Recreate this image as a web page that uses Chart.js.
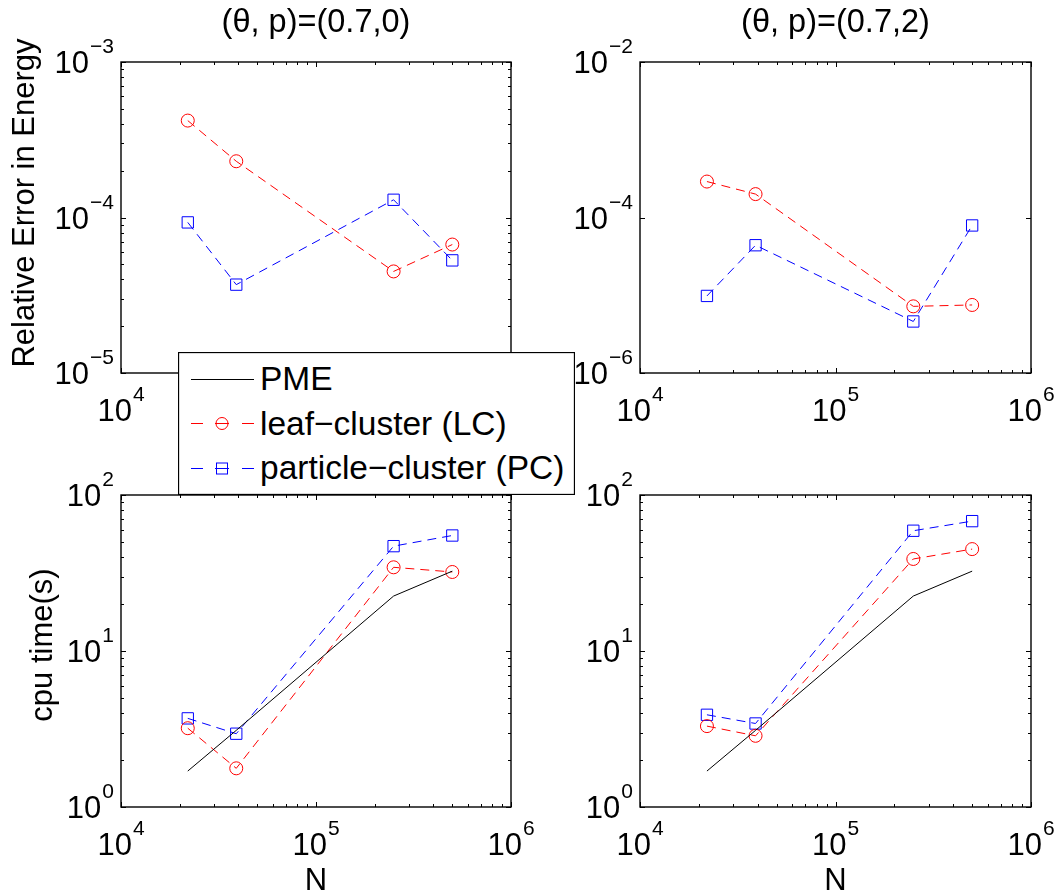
<!DOCTYPE html>
<html>
<head>
<meta charset="utf-8">
<script src="https://cdn.jsdelivr.net/npm/chart.js@4.4.1/dist/chart.umd.min.js"></script>
<style>
  html, body { margin: 0; padding: 0; background: #fff; }
  #fig { position: relative; width: 1060px; height: 893px; overflow: hidden; background: #fff; }
  #fig canvas { position: absolute; left: 0; top: 0; }
  #legend { position: absolute; left: 178px; top: 352px; }
  #legend text { font-family: "Liberation Sans", Arial, Helvetica, sans-serif; font-size: 33.5px; fill: #000; }
</style>
</head>
<body>
<div id="fig">
  <canvas id="errP0" width="1060" height="893"></canvas>
  <canvas id="errP2" width="1060" height="893"></canvas>
  <canvas id="timeP0" width="1060" height="893"></canvas>
  <canvas id="timeP2" width="1060" height="893"></canvas>
  <svg id="legend" width="397" height="143" xmlns="http://www.w3.org/2000/svg">
    <rect x="0.5" y="0.5" width="396" height="142" fill="#fff" stroke="#000" stroke-width="1.3"/>
    <line x1="13" y1="27.5" x2="76" y2="27.5" stroke="#000" stroke-width="1"/>
    <text x="82" y="38">PME</text>
    <path d="M13 71.5H25M37 71.5H51M64 71.5H76" stroke="#f00" stroke-width="1" fill="none"/>
    <circle cx="44" cy="71.5" r="6" stroke="#f00" stroke-width="1" fill="none"/>
    <text x="82" y="83">leaf−cluster (LC)</text>
    <path d="M13 116.5H25M37 116.5H51M64 116.5H76" stroke="#00f" stroke-width="1" fill="none"/>
    <rect x="38.5" y="111" width="11" height="11" stroke="#00f" stroke-width="1" fill="none"/>
    <text x="82" y="127">particle−cluster (PC)</text>
  </svg>
</div>
<script>
// Problem sizes N
const N = [22000, 39000, 250000, 500000];

// Relative error in energy, (theta, p) = (0.7, 0)
const errLC_p0 = [4.2e-4, 2.3e-4, 4.5e-5, 6.7e-5];
const errPC_p0 = [9.3e-5, 3.7e-5, 1.3e-4, 5.3e-5];

// Relative error in energy, (theta, p) = (0.7, 2)
const errLC_p2 = [2.9e-4, 2.0e-4, 7.2e-6, 7.5e-6];
const errPC_p2 = [9.8e-6, 4.4e-5, 4.6e-6, 7.9e-5];

// CPU time in seconds
const timePME = [1.7, 3.1, 22.5, 32.5];
const timeLC_p0 = [3.2, 1.77, 34.4, 32.1];
const timePC_p0 = [3.7, 2.95, 47.0, 55.0];
const timeLC_p2 = [3.3, 2.86, 38.9, 45.0];
const timePC_p2 = [3.9, 3.43, 59.0, 68.0];

// Decade exponents used as tick labels
const xTickExps = [4, 5, 6];
const errTickExps_p0 = [-5, -4, -3];
const errTickExps_p2 = [-6, -4, -2];
const timeTickExps = [0, 1, 2];

// Panel titles and axis titles
const titles = ['(θ, p)=(0.7,0)', '(θ, p)=(0.7,2)'];
const errTitle = 'Relative Error in Energy';
const timeTitle = 'cpu time(s)';
const nTitle = 'N';

const FAM = '"Liberation Sans", Arial, Helvetica, sans-serif';
const TICK_PX = 31, EXP_PX = 21, TITLE_PX = 32.5, LABEL_PX = 31;

function expText(e) { return e < 0 ? '\u2212' + (-e) : String(e); }

function powLabel(ctx, e, x, yBase, align) {
  const s = expText(e);
  ctx.font = TICK_PX + 'px ' + FAM;
  const wb = ctx.measureText('10').width;
  ctx.font = EXP_PX + 'px ' + FAM;
  const we = ctx.measureText(s).width;
  const gap = 1;
  const total = wb + gap + we;
  const x0 = align === 'right' ? x - total : x - total / 2;
  ctx.textAlign = 'left';
  ctx.textBaseline = 'alphabetic';
  ctx.font = TICK_PX + 'px ' + FAM;
  ctx.fillText('10', x0, yBase);
  ctx.font = EXP_PX + 'px ' + FAM;
  ctx.fillText(s, x0 + wb + gap, yBase - 20);
}

// Box, inward log ticks, power-of-ten labels and titles around each panel
const framePlugin = {
  id: 'frame',
  afterDatasetsDraw(chart, args, o) {
    const ctx = chart.ctx;
    const a = chart.chartArea;
    const xs = chart.scales.x, ys = chart.scales.y;
    ctx.save();
    ctx.strokeStyle = '#000';
    ctx.fillStyle = '#000';
    ctx.lineWidth = 1;

    const MAJ = 5, MIN = 3;
    ctx.beginPath();
    for (let i = 0; i < o.xExps.length; i++) {
      const d = Math.pow(10, o.xExps[i]);
      const px = Math.round(xs.getPixelForValue(d)) + 0.5;
      ctx.moveTo(px, a.bottom); ctx.lineTo(px, a.bottom - MAJ);
      ctx.moveTo(px, a.top); ctx.lineTo(px, a.top + MAJ);
      if (i < o.xExps.length - 1) {
        for (let k = 2; k <= 9; k++) {
          const m = Math.round(xs.getPixelForValue(k * d)) + 0.5;
          ctx.moveTo(m, a.bottom); ctx.lineTo(m, a.bottom - MIN);
          ctx.moveTo(m, a.top); ctx.lineTo(m, a.top + MIN);
        }
      }
    }
    for (let i = 0; i < o.yExps.length; i++) {
      const d = Math.pow(10, o.yExps[i]);
      const py = Math.round(ys.getPixelForValue(d)) + 0.5;
      ctx.moveTo(a.left, py); ctx.lineTo(a.left + MAJ, py);
      ctx.moveTo(a.right, py); ctx.lineTo(a.right - MAJ, py);
      if (o.yMinor && i < o.yExps.length - 1) {
        for (let k = 2; k <= 9; k++) {
          const m = Math.round(ys.getPixelForValue(k * d)) + 0.5;
          ctx.moveTo(a.left, m); ctx.lineTo(a.left + MIN, m);
          ctx.moveTo(a.right, m); ctx.lineTo(a.right - MIN, m);
        }
      }
    }
    ctx.stroke();

    // axes box
    ctx.lineWidth = 1.4;
    ctx.strokeRect(a.left, a.top, a.right - a.left, a.bottom - a.top);

    // tick labels
    o.xExps.forEach(e => powLabel(ctx, e, xs.getPixelForValue(Math.pow(10, e)), a.bottom + 48, 'center'));
    o.yExps.forEach(e => powLabel(ctx, e, a.left - 7, ys.getPixelForValue(Math.pow(10, e)) + 11, 'right'));

    const cx = (a.left + a.right) / 2;
    if (o.title) {
      ctx.font = TITLE_PX + 'px ' + FAM;
      ctx.textAlign = 'center';
      ctx.fillText(o.title, cx, 32);
    }
    if (o.xTitle) {
      ctx.font = LABEL_PX + 'px ' + FAM;
      ctx.textAlign = 'center';
      ctx.fillText(o.xTitle, cx, a.bottom + 83);
    }
    if (o.yTitle) {
      ctx.save();
      ctx.translate(o.yTitleX, o.yTitleY);
      ctx.rotate(-Math.PI / 2);
      ctx.font = LABEL_PX + 'px ' + FAM;
      ctx.textAlign = 'center';
      ctx.fillText(o.yTitle, 0, 0);
      ctx.restore();
    }
    ctx.restore();
  }
};

function series(vals, color, shape) {
  return {
    data: N.map((n, i) => ({ x: n, y: vals[i] })),
    borderColor: color,
    borderWidth: 1,
    borderDash: shape ? [9, 6] : [],
    pointStyle: shape || false,
    pointRadius: shape === 'rect' ? 8 : (shape ? 6.5 : 0),
    pointBorderColor: color,
    pointBackgroundColor: 'rgba(0,0,0,0)',
    pointBorderWidth: 1,
    tension: 0,
    fill: false
  };
}

function panel(id, datasets, pad, yMin, yMax, frame) {
  new Chart(document.getElementById(id), {
    type: 'line',
    data: { datasets },
    options: {
      responsive: false,
      animation: false,
      devicePixelRatio: 1,
      layout: { padding: pad },
      scales: {
        x: { type: 'logarithmic', min: 1e4, max: 1e6, display: false },
        y: { type: 'logarithmic', min: yMin, max: yMax, display: false }
      },
      plugins: { legend: { display: false }, tooltip: { enabled: false }, frame }
    },
    plugins: [framePlugin]
  });
}

const padTL = { left: 121, top: 62, right: 1060 - 511, bottom: 893 - 373 };
const padTR = { left: 640, top: 62, right: 1060 - 1031, bottom: 893 - 373 };
const padBL = { left: 121, top: 495, right: 1060 - 511, bottom: 893 - 807 };
const padBR = { left: 640, top: 495, right: 1060 - 1031, bottom: 893 - 807 };

panel('errP0', [series(errLC_p0, '#ff0000', 'circle'), series(errPC_p0, '#0000ff', 'rect')],
  padTL, 1e-5, 1e-3,
  { xExps: xTickExps, yExps: errTickExps_p0, yMinor: true, title: titles[0],
    yTitle: errTitle, yTitleX: 34, yTitleY: 203 });

panel('errP2', [series(errLC_p2, '#ff0000', 'circle'), series(errPC_p2, '#0000ff', 'rect')],
  padTR, 1e-6, 1e-2,
  { xExps: xTickExps, yExps: errTickExps_p2, yMinor: false, title: titles[1] });

panel('timeP0', [series(timePME, '#000000', null), series(timeLC_p0, '#ff0000', 'circle'), series(timePC_p0, '#0000ff', 'rect')],
  padBL, 1, 100,
  { xExps: xTickExps, yExps: timeTickExps, yMinor: true, xTitle: nTitle,
    yTitle: timeTitle, yTitleX: 52, yTitleY: 645 });

panel('timeP2', [series(timePME, '#000000', null), series(timeLC_p2, '#ff0000', 'circle'), series(timePC_p2, '#0000ff', 'rect')],
  padBR, 1, 100,
  { xExps: xTickExps, yExps: timeTickExps, yMinor: true, xTitle: nTitle });
</script>
</body>
</html>
